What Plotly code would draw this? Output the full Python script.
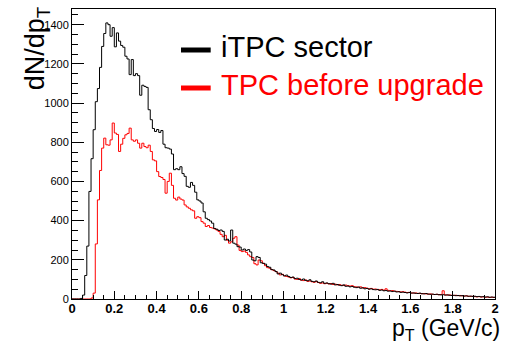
import numpy as np
import plotly.graph_objects as go

# pT binning: 200 bins of 0.01 GeV/c from 0 to 2
bin_width = 0.01
n_bins = 200

# dN/dpT per bin, iTPC sector
itpc_counts = [
    0, 0, 0, 0, 3, 20, 120, 270, 549, 716,
    864, 1007, 1074, 1182, 1289, 1355, 1409, 1400, 1341, 1385,
    1287, 1358, 1316, 1294, 1285, 1239, 1225, 1145, 1222, 1140,
    1150, 1140, 1040, 1091, 1085, 1080, 966, 915, 870, 855,
    865, 850, 860, 790, 772, 770, 765, 740, 660, 665,
    660, 675, 640, 626, 575, 570, 595, 580, 545, 506,
    500, 490, 445, 412, 405, 398, 387, 360, 356, 350,
    352, 345, 301, 305, 296, 352, 285, 280, 267, 265,
    250, 255, 248, 252, 240, 199, 195, 216, 212, 185,
    182, 178, 166, 162, 150, 148, 140, 128, 132, 124,
    118, 122, 115, 110, 112, 104, 106, 100, 97, 102,
    95, 93, 98, 90, 88, 92, 85, 83, 88, 80,
    82, 78, 76, 80, 72, 74, 70, 68, 72, 65,
    66, 62, 64, 60, 58, 61, 55, 57, 52, 54,
    50, 52, 48, 47, 49, 44, 46, 42, 43, 40,
    41, 38, 40, 36, 37, 34, 35, 33, 31, 33,
    30, 31, 29, 28, 30, 27, 26, 28, 25, 24,
    25, 23, 24, 22, 21, 22, 20, 21, 19, 18,
    19, 17, 18, 16, 17, 15, 16, 14, 15, 13,
    14, 12, 13, 11, 12, 10, 11, 9, 10, 9,
]

# dN/dpT per bin, TPC before upgrade
tpc_counts = [
    0, 0, 0, 0, 0, 0, 0, 0, 0, 5,
    30, 281, 506, 656, 770, 821, 787, 785, 812, 898,
    847, 840, 753, 790, 820, 838, 845, 872, 812, 805,
    812, 795, 770, 795, 778, 772, 785, 753, 710, 705,
    650, 625, 620, 610, 540, 600, 642, 580, 514, 505,
    520, 510, 505, 480, 470, 463, 455, 450, 412, 420,
    415, 395, 387, 370, 375, 365, 362, 358, 352, 345,
    330, 318, 325, 300, 285, 292, 310, 318, 275, 248,
    242, 245, 238, 225, 216, 212, 180, 174, 199, 195,
    182, 170, 160, 157, 150, 145, 140, 132, 123, 126,
    118, 115, 112, 108, 110, 102, 100, 104, 96, 94,
    97, 90, 92, 88, 85, 89, 84, 80, 82, 78,
    80, 77, 79, 74, 76, 72, 74, 70, 69, 71,
    68, 66, 68, 63, 62, 60, 62, 57, 58, 55,
    52, 54, 50, 51, 48, 47, 49, 45, 52, 44,
    42, 43, 40, 39, 38, 36, 37, 35, 33, 34,
    31, 30, 31, 29, 28, 27, 28, 26, 25, 26,
    24, 23, 24, 22, 23, 42, 21, 20, 21, 19,
    18, 19, 17, 18, 16, 15, 16, 14, 13, 14,
    12, 11, 12, 10, 11, 9, 10, 8, 9, 8,
]

series_names = ["iTPC sector", "TPC before upgrade"]
series_colors = ["#000000", "#ff0000"]

x_ticks = [0, 0.2, 0.4, 0.6, 0.8, 1.0, 1.2, 1.4, 1.6, 1.8, 2.0]
x_tick_text = ["0", "0.2", "0.4", "0.6", "0.8", "1", "1.2", "1.4", "1.6", "1.8", "2"]
y_ticks = [0, 200, 400, 600, 800, 1000, 1200, 1400]

edges = np.arange(n_bins + 1) * bin_width


def step_xy(counts):
    # histogram outline: rises from 0 at the first edge, falls back at the last
    c = np.asarray(counts, dtype=float)
    xs = np.concatenate([[edges[0]], edges])
    ys = np.concatenate([[0.0], c, [c[-1]]])
    return xs, ys


fig = go.Figure()
# TPC drawn first so the iTPC outline sits on top
for counts, name, color in zip([tpc_counts, itpc_counts], series_names[::-1], series_colors[::-1]):
    xs, ys = step_xy(counts)
    fig.add_trace(go.Scatter(x=xs, y=ys, mode="lines", name=name,
                             line=dict(color=color, width=1, shape="hv"),
                             showlegend=False, hoverinfo="skip"))

W, H = 506, 343
ml, mr, mt, mb = 72, 7, 9, 44
pw, ph = W - ml - mr, H - mt - mb


def px_to_paper(px, py):
    return (px - ml) / pw, (H - mb - py) / ph


font_family = "Liberation Sans, Arial, Helvetica, sans-serif"

fig.update_layout(
    width=W, height=H,
    margin=dict(l=ml, r=mr, t=mt, b=mb),
    paper_bgcolor="white", plot_bgcolor="white",
    font=dict(family=font_family, color="black"),
    xaxis=dict(range=[0, 2], tickvals=x_ticks, ticktext=x_tick_text,
               ticks="inside", ticklen=8, tickwidth=1, tickcolor="black",
               minor=dict(dtick=0.05, tick0=0, ticks="inside", ticklen=4, tickcolor="black"),
               showline=True, linecolor="black", linewidth=1, mirror=True,
               showgrid=False, zeroline=False, ticklabelstandoff=-3,
               tickfont=dict(size=13, weight="bold", color="black")),
    yaxis=dict(range=[0, 1480], tickvals=y_ticks,
               ticks="inside", ticklen=12, tickwidth=1, tickcolor="black",
               minor=dict(dtick=50, tick0=0, ticks="inside", ticklen=6, tickcolor="black"),
               showline=True, linecolor="black", linewidth=1, mirror=True,
               showgrid=False, zeroline=False,
               tickfont=dict(size=11, color="black")),
)

# axis titles
tx, ty = px_to_paper(37, 4)
fig.add_annotation(xref="paper", yref="paper", x=tx, y=ty, xanchor="center", yanchor="top",
                   text="dN/dp<sub>T</sub>", textangle=-90, showarrow=False,
                   font=dict(size=27, color="black"))
tx, ty = px_to_paper(505, 345)
fig.add_annotation(xref="paper", yref="paper", x=tx, y=ty, xanchor="right", yanchor="bottom",
                   text="p<sub>T</sub> (GeV/c)", showarrow=False, borderpad=0,
                   font=dict(size=23, color="black"))

# legend entries
legend_rows = [47, 85]
for name, color, row in zip(series_names, series_colors, legend_rows):
    x0, yy = px_to_paper(182, row + 3)
    x1, _ = px_to_paper(212, row + 3)
    fig.add_shape(type="line", xref="paper", yref="paper", x0=x0, x1=x1, y0=yy, y1=yy,
                  line=dict(color=color, width=5))
    lx, ly = px_to_paper(220, row)
    fig.add_annotation(xref="paper", yref="paper", x=lx, y=ly, xanchor="left", yanchor="middle",
                       text=name, showarrow=False, font=dict(size=29, color=color))

fig.write_html("out.html")
